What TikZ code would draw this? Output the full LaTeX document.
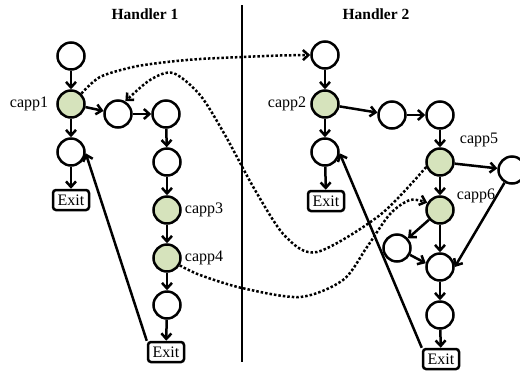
\documentclass[tikz,border=0pt]{standalone}
\usepackage{fontspec}
\setmainfont{Liberation Serif}
\usetikzlibrary{arrows.meta}
\definecolor{cappgreen}{RGB}{214,227,188}
\begin{document}
\begin{tikzpicture}[x=1pt,y=-1pt,line width=2.5pt,
  state/.style={circle,draw,minimum size=27pt,inner sep=0pt},
  capp/.style={state,fill=cappgreen},
  exitbox/.style={draw,rounded corners=3pt,minimum width=36pt,minimum height=20pt,
    inner sep=0pt,font=\fontsize{16}{18}\selectfont},
  lbl/.style={inner sep=0pt,font=\fontsize{16}{18}\selectfont},
  title/.style={inner sep=0pt,font=\fontsize{15.5}{17}\selectfont\bfseries},
  flow/.style={-{Straight Barb[length=5.5pt,width=10pt]}},
  jump/.style={flow,dotted}]
\useasboundingbox (0,0) rectangle (520,373);

% headings and the divider between the two handlers
\node[title] (h1) at (145,14) {Handler 1};
\node[title] (h2) at (376,14) {Handler 2};
\coordinate (divtop) at (242,5);
\coordinate (divbot) at (242,362);
\draw (divtop) -- (divbot);

% Handler 1
\node[state] (a1) at (71,56) {};
\node[capp]  (c1) at (71,104) {};
\node[state] (a2) at (71,152) {};
\node[exitbox] (ex1) at (71,200) {Exit};
\node[state] (r1) at (118,114) {};
\node[state] (r2) at (166,114) {};
\node[state] (r3) at (167,162) {};
\node[capp]  (c3) at (167,210) {};
\node[capp]  (c4) at (167,258) {};
\node[state] (r6) at (167,305) {};
\node[exitbox] (ex2) at (166,352) {Exit};

\node[lbl] (l1) at (29,104) {capp1};
\node[lbl] (l3) at (204,210) {capp3};
\node[lbl] (l4) at (204,258) {capp4};

\draw[flow] (a1) -- (c1);
\draw[flow] (c1) -- (a2);
\draw[flow] (a2) -- (ex1);
\draw[flow] (c1) -- (r1);
\draw[flow] (r1) -- (r2);
\draw[flow] (r2) -- (r3);
\draw[flow] (r3) -- (c3);
\draw[flow] (c3) -- (c4);
\draw[flow] (c4) -- (r6);
\draw[flow] (r6) -- (ex2);
\draw[flow] (ex2.north west) -- (a2.-5);

% Handler 2
\node[state] (b1) at (325,55) {};
\node[capp]  (c2) at (325,104) {};
\node[state] (b2) at (325,152) {};
\node[exitbox] (ex3) at (326,201) {Exit};
\node[state] (s1) at (392,115) {};
\node[state] (s2) at (440,115) {};
\node[capp]  (c5) at (440,162) {};
\node[state] (far) at (512,170) {};
\node[capp]  (c6) at (440,210) {};
\node[state] (lft) at (397,248) {};
\node[state] (ctr) at (440,267) {};
\node[state] (bot) at (440,315) {};
\node[exitbox] (ex4) at (441,359) {Exit};

\node[lbl] (l2) at (287,104) {capp2};
\node[lbl] (l5) at (479,140) {capp5};
\node[lbl] (l6) at (476,196) {capp6};

\draw[flow] (b1) -- (c2);
\draw[flow] (c2) -- (b2);
\draw[flow] (b2) -- (ex3);
\draw[flow] (c2) -- (s1);
\draw[flow] (s1) -- (s2);
\draw[flow] (s2) -- (c5);
\draw[flow] (c5) -- (c6);
\draw[flow] (c5) -- (far);
\draw[flow] (far) -- (ctr.east);
\draw[flow] (c6) -- (lft);
\draw[flow] (c6) -- (ctr);
\draw[flow] (lft) -- (ctr.165);
\draw[flow] (ctr) -- (bot);
\draw[flow] (bot) -- (ex4);
\draw[flow] (ex4.north west) -- (b2.-5);

% jumps between the handlers
\draw[jump] plot[smooth] coordinates {(c1.45) (100,77) (133,67) (167,62) (200,59)
  (242,57) (280,55.5) (b1.west)};
\draw[jump] plot[smooth] coordinates {(c5.200) (380,215) (317,252) (285,236)
  (255,190) (225,135) (200,95) (173,73) (150,80) (r1.60)};
\draw[jump] plot[smooth] coordinates {(c4.-30) (200,275) (242,288) (300,297)
  (343,280) (367,247) (390,214) (410,200) (c6.150)};
\end{tikzpicture}
\end{document}
